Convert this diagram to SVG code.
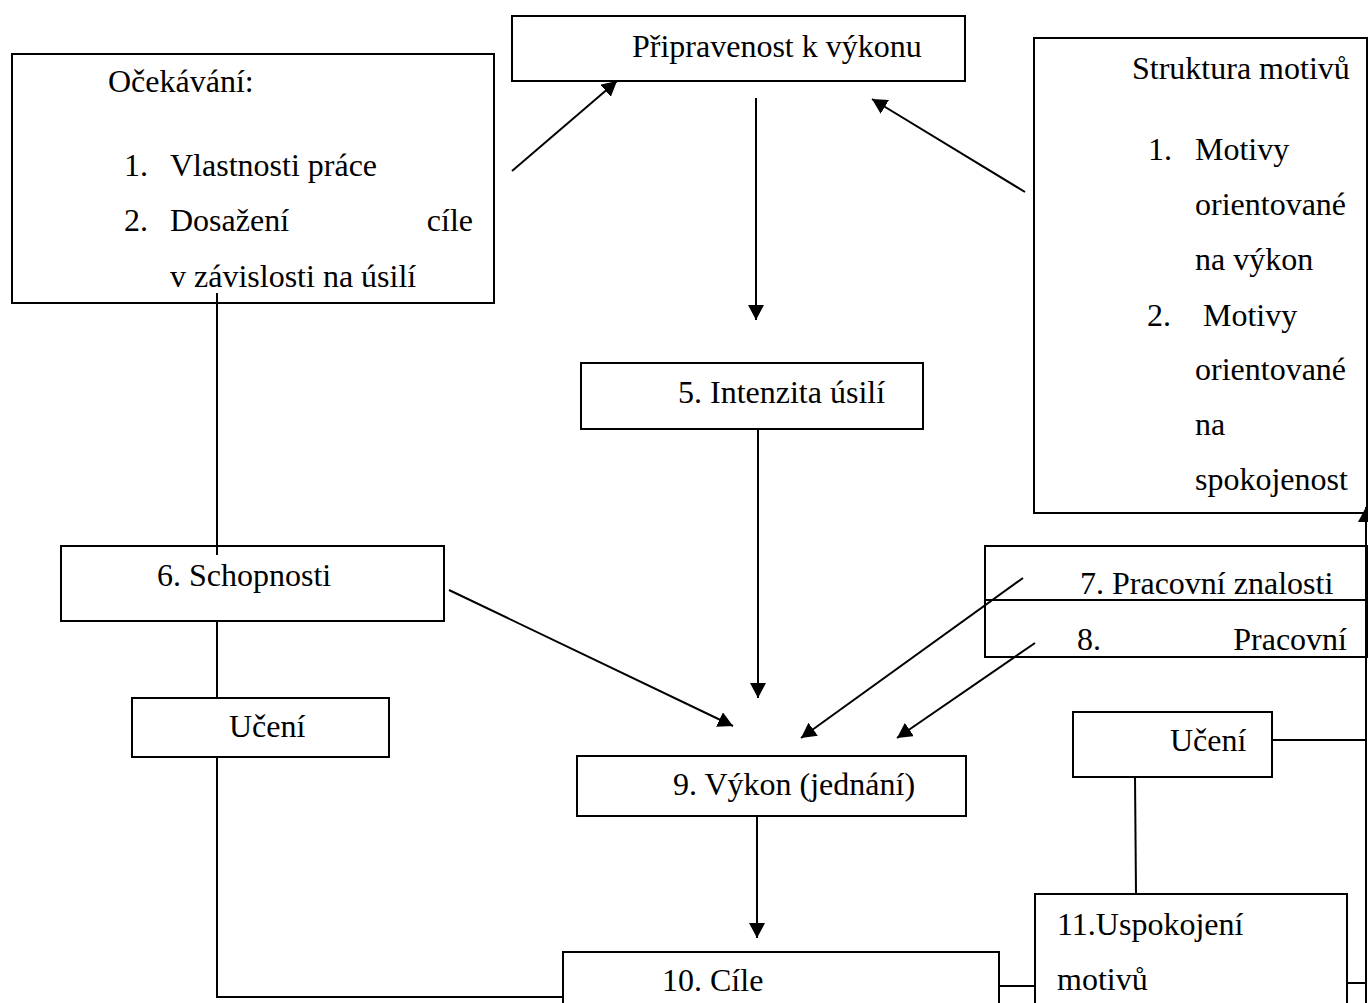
<svg xmlns="http://www.w3.org/2000/svg" width="1368" height="1003" viewBox="0 0 1368 1003">
<style>
.box{fill:#fff;stroke:#000;stroke-width:2}
.t{font-family:"Liberation Serif","Times New Roman",serif;font-size:32px;fill:#000}
.c{fill:none;stroke:#000;stroke-width:2}
.a{marker-end:url(#arr)}
</style>
<defs>
<marker id="arr" viewBox="0 0 15 16" refX="15" refY="8" markerWidth="15" markerHeight="16" markerUnits="userSpaceOnUse" orient="auto">
<path d="M0,0 L15,8 L0,16 z" fill="#000"/>
</marker>
</defs>
<rect width="1368" height="1003" fill="#fff"/>
<g id="n-ocekavani">
<rect class="box" x="12" y="54" width="482" height="249"/>
<text class="t" x="108" y="92">Očekávání:</text>
<text class="t" x="124" y="176">1.</text><text class="t" x="170" y="176">Vlastnosti práce</text>
<text class="t" x="124" y="231">2.</text><text class="t" x="170" y="231">Dosažení</text><text class="t" x="473" y="231" text-anchor="end">cíle</text>
<text class="t" x="170" y="287">v závislosti na úsilí</text>
</g>
<g id="n-pripravenost">
<rect class="box" x="512" y="16" width="453" height="65"/>
<text class="t" x="632" y="57">Připravenost k výkonu</text>
</g>
<g id="n-struktura">
<rect class="box" x="1034" y="38" width="333" height="475"/>
<text class="t" x="1132" y="79">Struktura motivů</text>
<text class="t" x="1148" y="160">1.</text><text class="t" x="1195" y="160">Motivy</text>
<text class="t" x="1195" y="215">orientované</text>
<text class="t" x="1195" y="270">na výkon</text>
<text class="t" x="1147" y="326">2.</text><text class="t" x="1203" y="326">Motivy</text>
<text class="t" x="1195" y="380">orientované</text>
<text class="t" x="1195" y="435">na</text>
<text class="t" x="1195" y="490">spokojenost</text>
</g>
<g id="n-intenzita">
<rect class="box" x="581" y="363" width="342" height="66"/>
<text class="t" x="678" y="403">5. Intenzita úsilí</text>
</g>
<g id="n-schopnosti">
<rect class="box" x="61" y="546" width="383" height="75"/>
<text class="t" x="157" y="586">6. Schopnosti</text>
</g>
<g id="n-znalosti">
<rect class="box" x="985" y="546" width="382" height="54"/>
<text class="t" x="1080" y="594">7. Pracovní znalosti</text>
</g>
<g id="n-pracovni">
<rect class="box" x="985" y="600" width="382" height="57"/>
<text class="t" x="1077" y="650">8.</text><text class="t" x="1347" y="650" text-anchor="end">Pracovní</text>
</g>
<g id="n-uceni-l">
<rect class="box" x="132" y="698" width="257" height="59"/>
<text class="t" x="229" y="737">Učení</text>
</g>
<g id="n-uceni-r">
<rect class="box" x="1073" y="712" width="199" height="65"/>
<text class="t" x="1170" y="751">Učení</text>
</g>
<g id="n-vykon">
<rect class="box" x="577" y="756" width="389" height="60"/>
<text class="t" x="673" y="795">9. Výkon (jednání)</text>
</g>
<g id="n-cile">
<rect class="box" x="563" y="952" width="436" height="60"/>
<text class="t" x="662" y="991">10. Cíle</text>
</g>
<g id="n-uspokojeni">
<rect class="box" x="1035" y="894" width="312" height="120"/>
<text class="t" x="1057" y="935">11.Uspokojení</text>
<text class="t" x="1057" y="990">motivů</text>
</g>
<g id="connectors">
<line class="c a" x1="512" y1="171" x2="617" y2="81"/>
<line class="c a" x1="1025" y1="192" x2="872" y2="99"/>
<line class="c a" x1="756" y1="98" x2="756" y2="320"/>
<line class="c a" x1="758" y1="429" x2="758" y2="698"/>
<line class="c a" x1="449" y1="590" x2="733" y2="726"/>
<line class="c a" x1="1023" y1="578" x2="801" y2="738"/>
<line class="c a" x1="1035" y1="643" x2="897" y2="738"/>
<line class="c a" x1="757" y1="816" x2="757" y2="938"/>
<line class="c" x1="217" y1="293" x2="217" y2="555"/>
<line class="c" x1="217" y1="621" x2="217" y2="698"/>
<polyline class="c" points="217,757 217,997 563,997"/>
<line class="c" x1="999" y1="986" x2="1035" y2="986"/>
<line class="c" x1="1135" y1="777" x2="1136" y2="894"/>
<line class="c" x1="1272" y1="740" x2="1366" y2="740"/>
<line class="c" x1="1347" y1="983" x2="1366" y2="983"/>
<line class="c a" x1="1366" y1="1003" x2="1366" y2="507"/>
</g>
</svg>
